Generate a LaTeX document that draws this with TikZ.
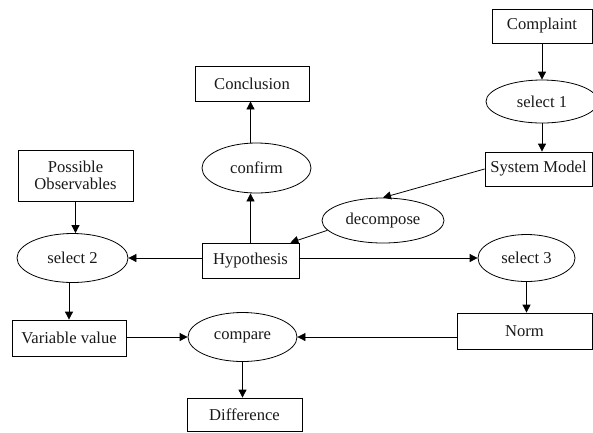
\documentclass[tikz,border=0pt]{standalone}
\usepackage{fontspec}
\setmainfont{Liberation Serif}
\usetikzlibrary{shapes.geometric,arrows.meta,calc}
\begin{document}
\begin{tikzpicture}[x=1pt,y=-1pt,
  every node/.style={font=\fontsize{16.6}{19.5}\selectfont, text=black!90, inner sep=0pt},
  box/.style={draw, rectangle, line width=0.8pt},
  oval/.style={draw, ellipse, line width=0.8pt},
  flow/.style={line width=0.8pt, -{Triangle[length=8pt,width=8pt]}}]
\useasboundingbox (0,0) rectangle (593,432);

% rectangles
\node[box, minimum width=114, minimum height=35] (concl) at (252,83.5) {Conclusion};
\node[box, minimum width=100, minimum height=34] (complaint) at (542,26) {Complaint};
\node[box, minimum width=107, minimum height=34] (sysmodel) at (538.5,169) {System Model};
\node[box, minimum width=115, minimum height=51, align=center] (possobs) at (75.5,175.5) {Possible\\[-2pt]Observables};
\node[box, minimum width=97, minimum height=35] (hyp) at (250.5,260.5) {Hypothesis};
\node[box, minimum width=114, minimum height=36] (varval) at (69,338) {Variable value};
\node[box, minimum width=135, minimum height=36] (norm) at (524.5,331) {Norm};
\node[box, minimum width=115, minimum height=33] (diff) at (244.5,414.5) {Difference};

% ellipses
\node[oval, minimum width=109, minimum height=50] (confirm) at (256.5,168) {confirm};
\node[oval, minimum width=112, minimum height=43] (sel1) at (542,101.5) {select 1};
\node[oval, minimum width=122, minimum height=45] (decomp) at (383,220.5) {decompose};
\node[oval, minimum width=111, minimum height=49] (sel2) at (72.5,258) {select 2};
\node[oval, minimum width=97, minimum height=47] (sel3) at (526.5,258) {select 3};
\node[oval, minimum width=109, minimum height=49] (compare) at (242.5,337) {compare};

% connectors
\draw[flow] (complaint.south) -- (sel1.north);
\draw[flow] (sel1.south) -- (sel1.south |- sysmodel.north);
\draw[flow] (sysmodel.west) -- (decomp.north);
\draw[flow] (decomp.190) -- ($(hyp.north east)+(-9,0)$);
\draw[flow] (hyp.north) -- (hyp.north |- confirm.south);
\draw[flow] (hyp.north |- confirm.north) -- (hyp.north |- concl.south);
\draw[flow] (hyp.west |- sel2.east) -- (sel2.east);
\draw[flow] (hyp.east |- sel3.west) -- (sel3.west);
\draw[flow] (possobs.south) -- (possobs.south |- sel2.north);
\draw[flow] (varval.north |- sel2.south) -- (varval.north);
\draw[flow] (varval.east |- compare.west) -- (compare.west);
\draw[flow] (sel3.south) -- (sel3.south |- norm.north);
\draw[flow] (compare.east -| norm.west) -- (compare.east);
\draw[flow] (compare.south) -- (compare.south |- diff.north);
\end{tikzpicture}
\end{document}
